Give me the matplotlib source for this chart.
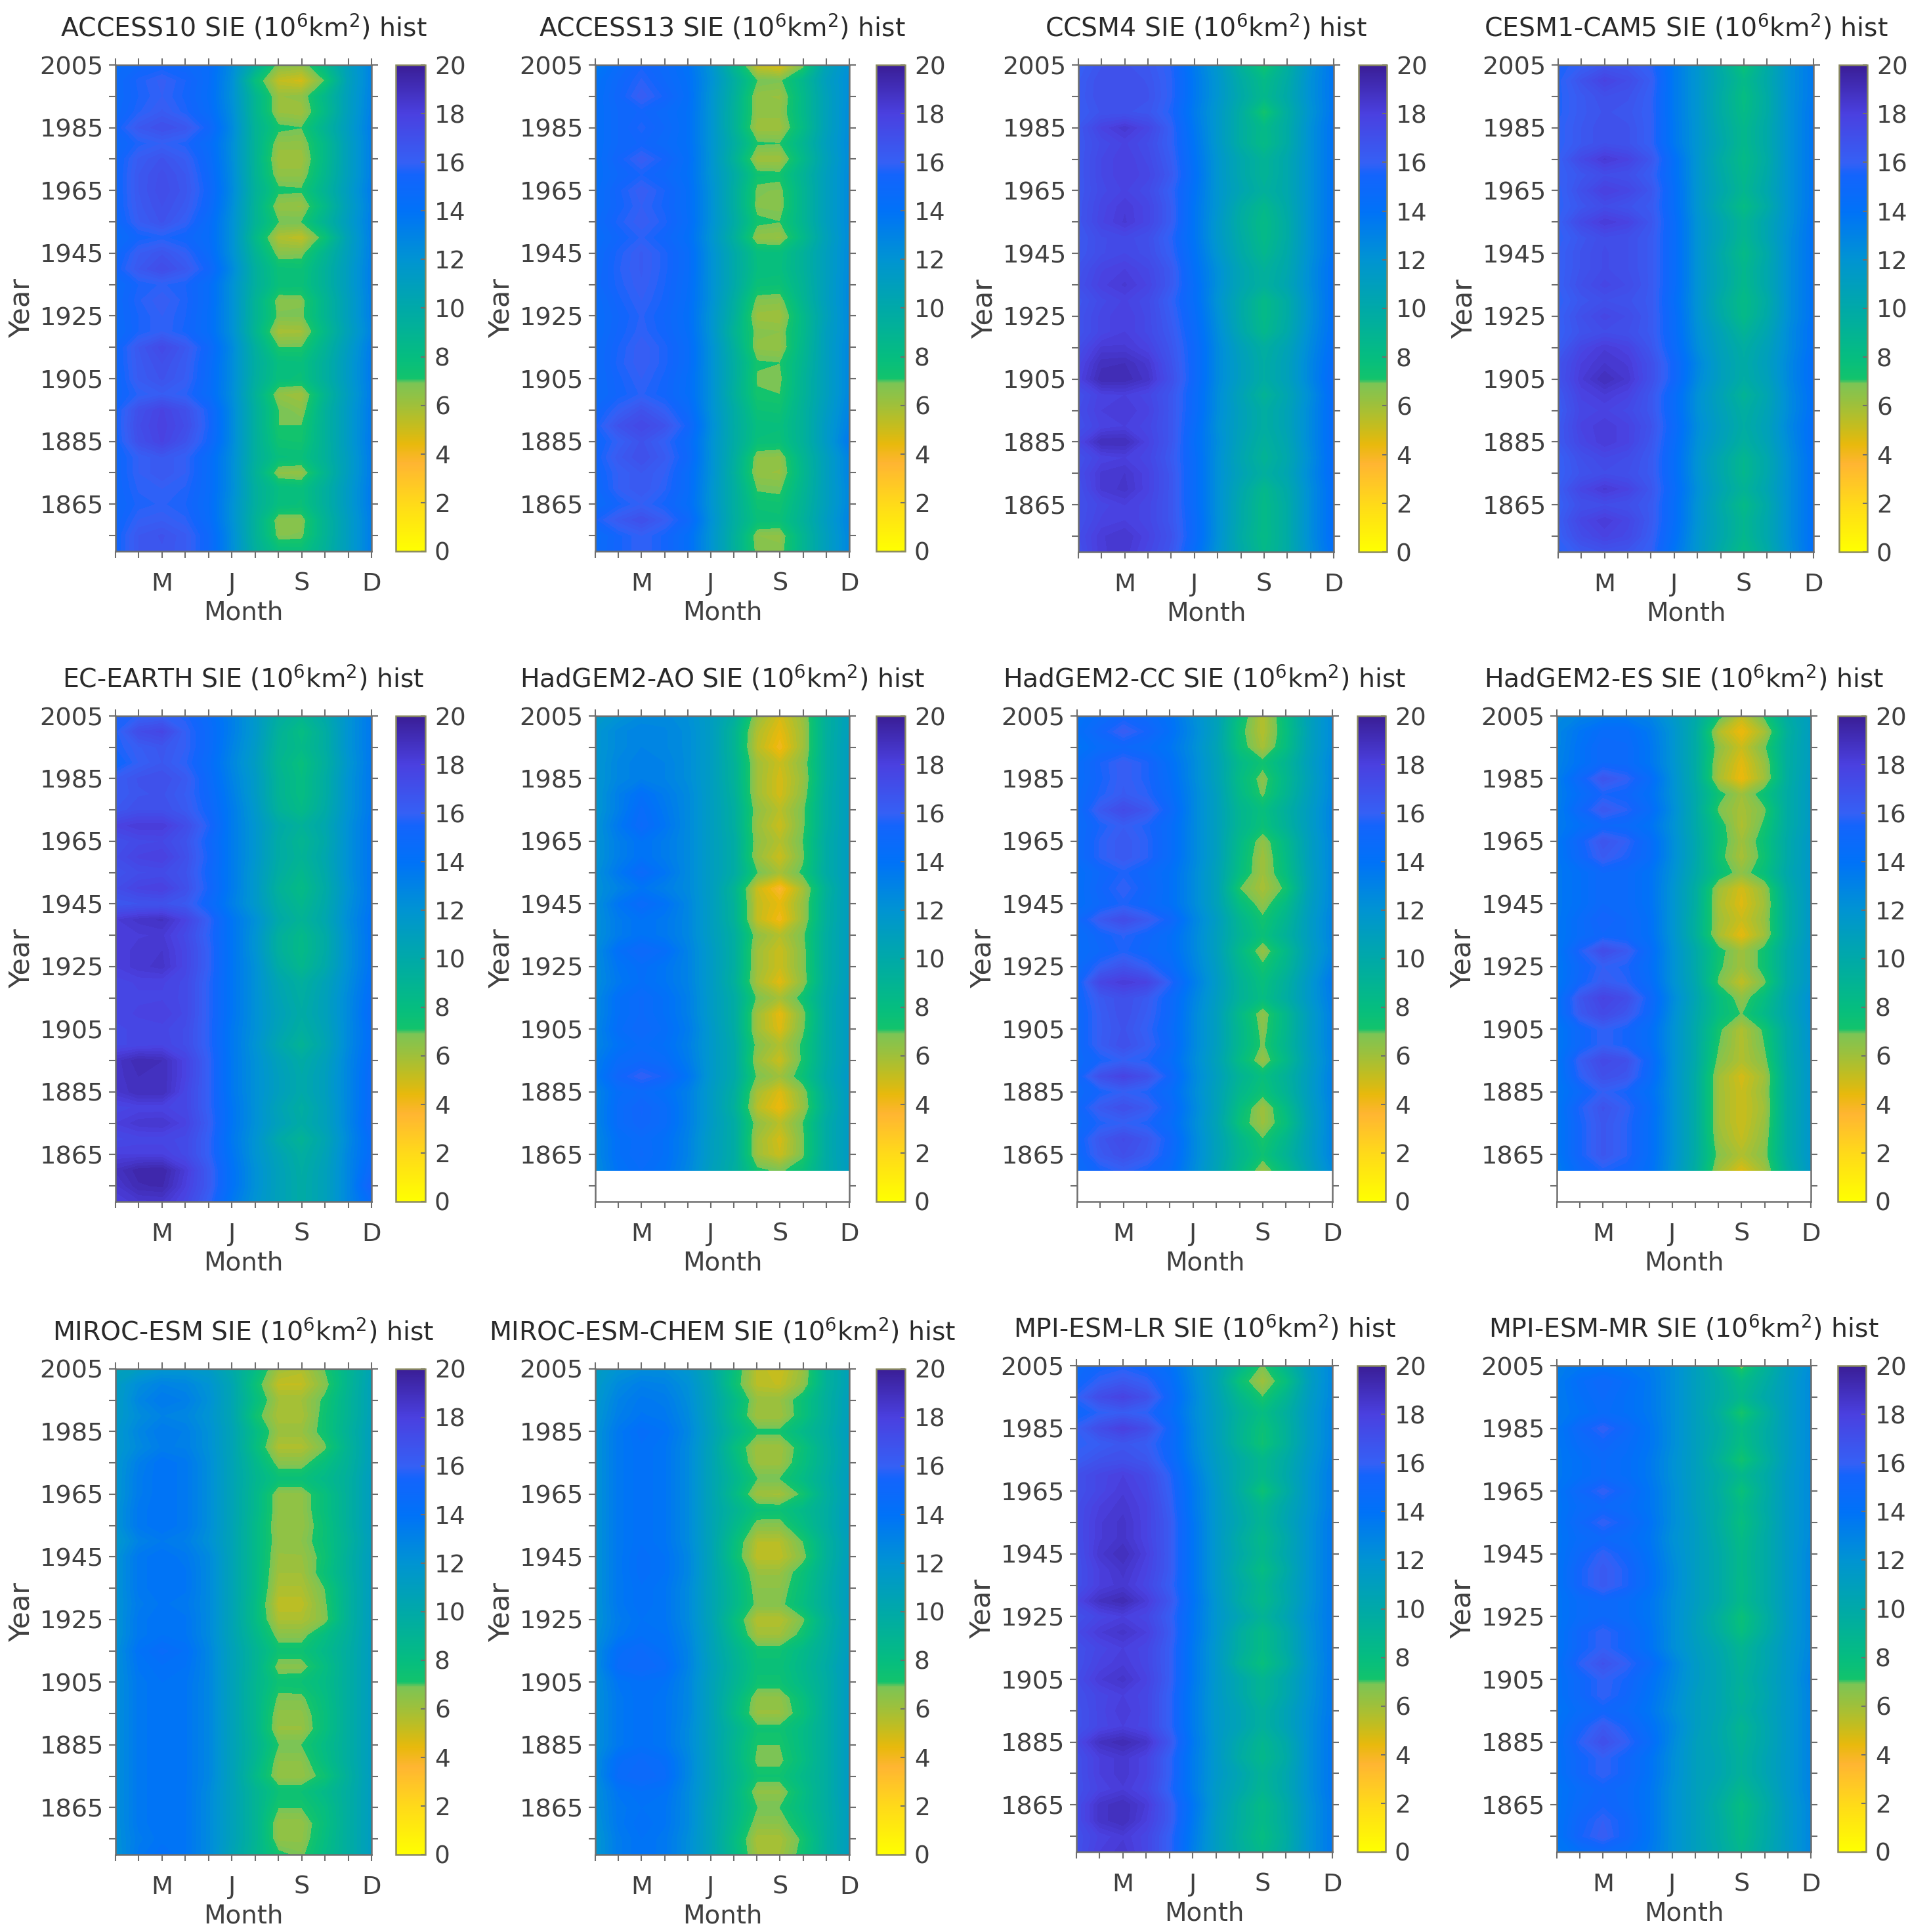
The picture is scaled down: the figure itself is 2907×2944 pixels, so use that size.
import numpy as np
import matplotlib
matplotlib.use('Agg')
import matplotlib.pyplot as plt
from matplotlib.colors import LinearSegmentedColormap, Normalize
from matplotlib.cm import ScalarMappable

plt.rcParams['font.family'] = 'DejaVu Sans'
plt.rcParams['mathtext.default'] = 'regular'

# rows run 2005, 2000, ... 1850 from top to bottom, columns Jan..Dec, values in 0.1 x 10^6 km2
years = list(range(2005, 1849, -5))
months = list(range(1, 13))

access10 = [
[146,150,152,150,146,125,95,66,64,84,110,130],
[147,156,161,155,145,123,78,52,48,70,108,130],
[147,155,160,154,144,122,88,62,64,85,110,131],
[148,157,163,156,146,124,88,62,60,83,110,132],
[152,165,170,166,152,126,90,72,70,90,112,134],
[148,156,160,156,146,124,90,64,64,84,110,132],
[150,163,168,162,148,124,90,60,60,84,110,132],
[150,165,171,165,150,125,90,64,64,86,110,132],
[150,165,172,166,152,126,92,72,71,90,112,134],
[150,164,170,164,150,124,90,63,62,84,110,132],
[148,162,168,160,146,122,90,70,70,90,112,133],
[145,153,156,152,145,122,84,56,52,75,108,132],
[149,162,167,160,147,122,90,66,67,88,110,132],
[152,165,172,165,152,126,94,76,75,92,112,133],
[146,155,158,155,145,122,94,77,76,92,112,133],
[147,157,162,156,145,122,90,66,67,88,110,132],
[147,155,160,155,144,122,90,68,68,88,110,132],
[146,155,160,154,144,122,88,58,59,84,108,130],
[150,165,174,165,150,126,94,70,70,90,112,134],
[150,164,170,163,148,125,96,79,78,94,114,135],
[149,163,168,162,147,125,95,78,77,94,114,135],
[150,158,162,158,146,124,92,63,60,88,112,134],
[153,170,178,170,154,126,94,70,65,92,114,135],
[153,172,179,172,155,126,94,70,70,92,114,135],
[152,170,178,168,153,126,94,73,72,92,114,136],
[150,160,165,160,146,124,94,78,77,92,112,134],
[150,160,165,160,146,124,92,64,63,88,112,134],
[150,158,160,157,146,124,94,80,78,94,114,135],
[149,156,158,155,145,122,94,79,77,94,114,135],
[150,160,162,158,146,122,92,65,66,90,112,133],
[152,165,168,163,150,124,92,67,68,90,112,133],
[152,165,167,163,150,124,94,78,77,92,112,133],
]

access13 = [
[134,146,154,148,140,120,86,50,45,66,106,122],
[140,150,158,150,142,122,96,70,68,86,110,124],
[141,152,162,154,143,120,94,63,62,84,108,124],
[142,150,153,148,142,120,92,64,64,84,108,125],
[142,150,156,150,142,120,92,60,60,82,108,125],
[142,150,153,148,142,120,96,71,70,88,110,126],
[142,153,162,154,143,120,92,60,60,84,108,125],
[142,150,155,150,142,120,98,73,72,90,110,126],
[143,154,162,155,144,122,96,68,67,88,110,126],
[144,153,160,154,144,122,96,67,66,88,110,126],
[146,156,162,156,145,122,98,72,70,88,110,126],
[144,152,158,152,143,120,94,63,62,84,108,125],
[146,156,163,156,146,122,100,79,78,92,110,126],
[147,157,163,156,146,122,100,80,79,92,110,126],
[148,156,162,155,145,122,100,76,75,90,110,127],
[145,154,160,154,144,122,96,67,66,88,110,127],
[144,152,158,152,143,120,94,61,60,84,108,127],
[144,153,159,153,144,120,90,66,65,84,110,126],
[146,155,162,156,146,122,94,64,63,86,110,128],
[146,156,162,156,146,122,96,71,70,88,110,128],
[146,154,160,154,144,122,96,69,68,90,110,128],
[146,153,158,153,144,122,94,71,70,90,110,128],
[150,160,168,160,148,122,98,75,74,92,112,130],
[154,168,175,168,153,124,98,79,78,92,114,132],
[150,160,168,160,148,122,98,77,76,92,114,136],
[152,164,170,163,150,122,96,65,64,88,110,130],
[150,160,165,160,146,122,94,63,62,86,110,130],
[148,160,165,158,146,120,96,69,68,88,110,128],
[146,154,160,154,144,120,96,74,73,90,110,128],
[154,164,170,162,150,122,96,77,76,92,112,130],
[145,154,160,154,143,120,94,65,64,88,110,128],
[146,154,160,154,143,120,94,67,66,88,110,128],
]

ccsm4 = [
[160,167,168,165,157,134,116,92,72,94,120,138],
[162,170,170,167,158,136,118,98,83,98,122,138],
[163,170,170,168,158,136,118,100,85,100,122,138],
[162,168,168,166,156,134,116,96,71,96,120,138],
[165,178,184,176,160,136,116,96,83,98,122,140],
[165,173,178,172,160,138,116,96,82,98,122,140],
[165,175,180,174,162,140,118,102,90,102,122,140],
[165,175,180,176,164,142,118,102,90,102,122,140],
[165,174,178,173,160,140,118,104,93,102,122,140],
[166,176,182,176,162,138,118,98,85,100,122,140],
[166,177,183,176,162,138,116,96,82,98,122,140],
[164,172,174,170,158,138,116,98,83,98,122,140],
[165,172,175,171,160,140,118,100,86,100,122,140],
[168,177,180,175,164,142,122,104,92,102,124,142],
[170,179,183,177,164,144,122,104,93,104,124,142],
[166,174,178,173,160,144,120,100,83,98,122,142],
[168,176,180,174,162,146,122,100,83,98,122,142],
[168,176,180,174,164,148,124,102,85,100,124,142],
[172,183,183,178,166,150,126,108,95,106,126,144],
[176,189,190,184,168,150,126,110,97,108,128,146],
[178,192,192,186,170,150,126,110,97,108,128,148],
[170,179,180,176,166,148,124,106,90,104,124,146],
[172,180,182,178,166,148,124,108,96,106,126,146],
[170,178,180,176,166,146,122,108,96,106,126,146],
[176,190,190,178,166,144,124,106,93,104,126,146],
[170,178,180,176,164,146,122,104,90,102,124,146],
[172,183,185,178,166,146,122,106,94,104,126,146],
[170,183,186,178,166,146,122,102,85,100,124,144],
[170,176,180,176,166,146,122,100,83,98,124,144],
[170,178,180,176,166,148,122,100,83,98,124,144],
[172,182,185,178,168,148,122,98,82,98,124,144],
[170,182,184,176,166,144,120,100,84,98,122,142],
]

cesm = [
[155,160,166,165,158,135,118,98,75,98,122,136],
[156,168,178,172,162,135,118,100,83,100,122,136],
[156,164,170,168,160,135,118,98,80,98,122,136],
[156,164,168,166,160,135,118,98,82,98,122,138],
[158,165,170,168,160,136,118,100,85,100,122,138],
[158,165,170,168,160,136,118,102,85,100,122,138],
[160,174,183,178,166,142,118,98,83,98,122,138],
[160,166,172,170,162,142,118,100,85,100,122,138],
[158,170,180,176,166,144,118,102,87,102,122,138],
[158,166,172,168,164,144,118,98,81,98,122,138],
[160,174,182,178,166,146,120,104,88,104,122,140],
[158,166,172,170,164,146,120,104,87,104,124,140],
[160,168,173,170,164,146,120,100,83,100,124,140],
[160,168,173,170,164,146,120,102,86,102,124,140],
[160,170,176,172,164,146,120,102,85,102,124,140],
[158,166,170,168,164,144,120,98,82,98,124,140],
[160,170,176,172,164,146,120,100,83,100,124,140],
[160,168,172,170,164,146,122,106,90,104,126,142],
[162,176,182,178,166,148,124,108,96,108,126,142],
[168,180,185,182,170,152,128,110,98,110,128,144],
[168,182,190,184,170,152,126,110,97,108,128,144],
[164,178,182,178,166,146,122,106,90,104,126,142],
[162,176,178,174,166,146,122,108,95,106,126,142],
[164,178,182,178,168,148,124,110,97,108,128,144],
[164,176,182,178,166,146,122,108,94,106,126,144],
[160,170,175,172,164,144,120,102,87,102,124,142],
[160,168,172,170,164,144,120,102,86,102,124,142],
[162,176,183,178,166,146,122,104,90,104,124,142],
[160,170,172,170,164,144,120,100,83,100,124,142],
[162,176,182,176,164,144,120,102,87,102,124,142],
[160,172,178,174,162,142,118,102,86,102,124,142],
[156,164,168,166,160,138,118,98,82,98,122,142],
]

ecearth = [
[155,158,160,156,146,132,116,96,88,100,120,136],
[156,172,176,160,148,132,116,92,80,96,120,136],
[155,162,166,160,148,130,114,90,83,96,120,136],
[150,160,165,158,146,128,112,88,78,94,118,136],
[162,168,170,164,148,130,114,90,80,96,120,136],
[162,167,168,162,150,132,114,90,80,96,120,136],
[165,170,170,164,152,134,116,92,83,98,120,136],
[178,182,182,172,156,134,118,100,92,102,122,138],
[170,174,175,168,152,134,118,98,88,100,122,138],
[172,178,180,170,154,134,118,98,90,102,122,138],
[168,172,173,168,152,134,116,96,86,100,122,138],
[172,178,180,170,154,134,116,92,82,98,120,138],
[165,167,168,164,150,132,116,96,86,100,122,138],
[182,186,188,178,160,138,122,100,90,102,124,140],
[180,182,183,174,158,138,120,94,84,98,122,140],
[180,184,185,176,160,138,120,94,83,98,122,140],
[180,184,186,176,160,138,122,98,86,100,122,140],
[176,178,178,174,158,138,122,104,94,106,124,142],
[176,177,177,174,158,138,122,106,96,108,126,144],
[176,178,180,174,158,138,122,108,98,108,126,146],
[174,176,176,172,158,136,122,106,95,106,126,144],
[174,176,177,172,158,136,120,102,90,104,126,144],
[186,192,190,178,160,136,122,108,98,108,128,146],
[186,190,190,178,160,136,122,110,100,110,128,148],
[184,190,190,176,160,136,122,110,100,110,128,148],
[176,178,178,176,160,138,122,106,96,108,128,148],
[180,184,185,178,162,138,122,108,98,108,128,150],
[174,176,176,174,160,136,120,100,90,104,126,146],
[180,180,180,174,160,138,120,106,95,106,128,146],
[188,194,195,182,164,140,122,108,97,108,128,150],
[184,192,193,180,164,140,122,108,98,108,128,156],
[180,184,185,176,160,136,120,108,98,108,128,146],
]

hadgem_ao = [
[114,120,125,126,122,112,96,62,48,62,94,110],
[118,126,130,128,124,112,90,56,44,60,94,110],
[118,126,130,128,124,112,90,54,40,60,94,112],
[118,128,132,130,124,112,92,60,50,64,94,112],
[118,128,132,130,124,112,92,60,48,62,94,112],
[118,132,142,134,126,112,94,60,48,64,96,112],
[118,132,146,136,126,112,96,64,54,68,96,112],
[120,136,148,138,126,112,96,62,50,68,96,112],
[120,132,140,134,126,112,98,64,55,70,98,112],
[120,132,140,134,126,112,98,62,50,68,98,112],
[122,136,148,138,126,112,98,70,58,72,98,112],
[122,130,138,132,126,112,90,50,36,58,92,112],
[122,138,147,140,128,112,92,52,44,62,94,112],
[122,134,140,136,128,112,92,52,40,62,94,112],
[122,134,140,136,128,112,96,64,55,68,96,112],
[124,142,150,144,130,114,96,60,50,66,96,112],
[124,138,144,138,130,114,96,60,50,66,96,112],
[124,136,143,138,130,114,94,58,45,64,96,112],
[126,142,148,142,132,114,98,68,58,74,98,114],
[126,142,148,142,132,114,98,60,44,66,98,114],
[128,144,150,144,134,116,98,60,46,68,98,114],
[128,140,146,142,132,116,100,66,56,72,98,114],
[132,146,150,146,134,116,100,62,50,72,98,114],
[134,152,160,154,138,116,100,68,60,76,100,116],
[128,144,148,142,132,114,96,58,46,64,96,114],
[128,146,153,146,132,114,94,54,42,62,94,114],
[128,146,152,146,132,114,98,64,54,70,98,114],
[126,142,147,142,130,112,98,60,48,68,98,114],
[126,142,148,142,130,112,98,60,50,68,98,114],
[124,140,145,140,128,110,96,72,68,76,98,112],
]

hadgem_cc = [
[140,146,152,148,140,124,108,78,55,80,108,126],
[142,152,162,154,142,126,108,74,55,78,108,126],
[138,146,150,146,138,124,106,76,58,80,108,126],
[144,155,162,156,142,126,108,84,73,88,110,128],
[144,154,162,156,144,126,108,82,65,86,108,128],
[146,156,163,158,146,128,110,84,68,88,110,128],
[146,164,173,166,150,128,110,88,78,94,112,130],
[146,155,162,156,146,128,110,88,76,92,112,130],
[146,158,165,158,146,128,110,84,63,84,110,128],
[146,158,165,158,146,128,110,82,60,82,110,128],
[142,150,156,150,142,126,108,80,60,80,108,128],
[142,152,160,152,142,126,108,70,58,72,108,128],
[142,150,156,150,142,126,108,80,64,82,110,128],
[148,164,172,164,152,130,112,88,72,88,112,130],
[144,152,158,152,144,128,110,90,76,92,112,130],
[144,150,156,150,144,128,110,84,62,84,110,128],
[146,160,168,160,148,130,112,88,72,88,112,132],
[150,176,182,178,158,134,114,92,78,94,116,136],
[150,164,170,164,150,130,112,92,80,96,116,134],
[148,162,170,162,150,128,110,84,64,86,112,132],
[148,162,168,160,148,128,110,86,66,86,112,132],
[148,162,170,162,150,128,110,86,68,88,112,132],
[148,154,160,156,146,126,108,82,62,84,110,130],
[150,170,178,170,152,128,110,90,78,92,112,132],
[148,154,160,156,146,126,108,86,74,90,112,132],
[150,164,170,164,150,128,108,80,60,82,110,130],
[148,156,160,156,146,126,106,76,61,78,108,130],
[150,166,173,166,152,128,108,86,70,86,110,130],
[148,164,170,164,150,128,108,88,74,90,110,130],
[146,154,160,154,146,126,106,84,62,82,106,126],
]

hadgem_es = [
[126,130,134,134,130,116,100,74,52,72,98,112],
[128,138,146,146,136,120,98,56,42,58,94,112],
[128,140,150,148,138,120,98,64,50,68,96,112],
[130,140,150,148,138,120,98,60,45,62,96,112],
[132,150,167,160,146,122,98,58,42,60,96,114],
[132,144,155,152,142,122,100,74,60,76,98,114],
[132,150,165,158,146,124,100,68,58,68,98,114],
[134,142,150,148,140,122,100,76,56,72,98,114],
[136,152,167,160,146,124,102,76,60,76,100,116],
[136,150,163,156,146,124,102,74,58,74,100,116],
[136,142,150,148,140,122,100,78,64,78,102,116],
[136,142,150,148,140,120,96,60,48,62,98,116],
[136,142,150,148,140,120,96,58,46,60,96,116],
[136,146,155,150,142,120,94,60,50,62,96,116],
[136,146,152,150,142,120,94,58,44,60,96,116],
[136,156,172,164,146,122,100,74,60,74,100,118],
[136,150,160,156,144,122,100,72,60,74,100,118],
[136,152,163,158,146,122,102,68,52,68,100,118],
[140,166,178,172,152,126,104,80,64,80,104,122],
[140,164,174,166,150,124,102,80,69,84,104,122],
[136,150,160,154,144,122,100,72,56,72,100,120],
[136,150,160,154,144,122,100,70,56,70,100,120],
[136,162,174,170,150,122,100,66,56,66,100,118],
[136,158,170,166,148,122,98,60,48,60,98,118],
[136,148,160,154,142,122,98,60,50,62,98,118],
[136,156,168,160,146,122,98,60,50,60,98,118],
[136,154,166,158,144,122,98,60,50,62,98,118],
[136,154,166,158,144,122,98,62,52,64,98,118],
[136,154,166,158,144,122,98,66,56,66,98,118],
[134,148,156,152,142,120,96,60,46,60,94,116],
]

miroc_esm = [
[108,112,118,118,114,100,82,60,56,70,88,106],
[112,124,130,128,120,104,76,52,52,66,88,108],
[112,128,135,132,122,104,80,60,60,72,90,108],
[114,124,130,128,120,104,74,58,58,74,90,108],
[116,128,135,132,122,106,82,62,62,74,92,110],
[116,126,133,132,122,106,80,56,56,68,90,110],
[118,132,140,136,124,106,86,66,66,78,92,110],
[118,134,140,136,124,106,88,76,76,84,94,112],
[118,134,140,136,124,106,86,64,64,78,94,112],
[120,136,140,136,124,106,86,64,64,78,94,112],
[120,136,140,136,124,106,84,63,63,76,94,112],
[116,130,135,132,122,106,84,64,65,76,92,110],
[120,136,140,136,126,106,84,62,62,74,94,112],
[120,136,140,138,126,106,84,60,60,76,94,112],
[120,136,140,138,126,106,84,57,57,70,92,112],
[120,134,138,136,126,106,82,53,53,68,92,112],
[120,136,140,138,126,106,82,57,57,66,92,112],
[120,136,140,138,126,106,86,66,66,80,94,112],
[122,140,146,142,128,108,90,74,74,84,96,112],
[122,138,142,140,128,108,90,66,66,80,96,112],
[122,136,140,138,128,108,88,74,75,82,96,112],
[122,136,140,138,128,108,88,68,68,80,96,112],
[122,136,140,138,128,108,88,64,64,78,96,112],
[122,136,140,138,128,108,88,62,62,78,96,112],
[122,136,140,138,128,108,90,70,70,82,96,112],
[122,136,140,138,128,108,88,65,65,80,96,112],
[122,136,140,138,128,108,84,63,63,74,94,112],
[122,136,140,138,126,108,90,75,75,84,96,112],
[122,136,140,138,126,108,90,70,70,80,96,112],
[122,136,140,138,126,108,90,63,63,78,96,112],
[122,134,139,138,126,108,90,64,64,80,96,112],
[120,136,142,138,126,106,88,72,68,82,96,112],
]

miroc_chem = [
[112,120,124,124,118,102,78,54,50,62,92,108],
[114,126,132,130,122,104,76,54,52,64,92,108],
[116,130,136,134,124,106,84,62,62,76,94,110],
[118,132,138,136,126,106,82,60,60,76,94,110],
[120,136,144,140,128,108,88,72,72,84,96,112],
[120,136,142,138,126,106,80,60,60,76,94,110],
[120,136,142,138,126,106,84,61,61,78,94,110],
[120,136,142,138,126,106,88,70,70,82,96,112],
[120,136,142,138,126,106,84,60,59,72,94,110],
[120,136,142,138,126,106,90,76,75,84,96,112],
[120,136,142,138,126,106,86,66,66,80,96,112],
[120,136,142,138,126,106,80,55,55,70,92,110],
[120,136,144,140,128,106,78,53,53,66,92,110],
[120,136,144,140,128,106,84,62,62,76,94,112],
[120,136,142,138,126,106,86,65,65,78,96,112],
[120,136,142,138,126,106,86,67,67,80,96,112],
[120,134,140,138,126,106,80,55,55,68,92,110],
[122,136,142,140,128,108,84,60,60,74,94,112],
[124,144,148,142,130,108,90,74,74,84,96,112],
[124,146,150,146,130,110,92,76,76,86,98,114],
[122,138,142,140,128,108,90,74,74,84,96,114],
[122,136,142,138,128,108,86,64,64,78,96,114],
[122,136,142,138,128,108,84,62,62,76,96,114],
[122,136,142,138,126,108,90,73,73,82,96,114],
[122,136,142,138,126,108,88,70,70,82,96,114],
[124,144,148,144,128,108,88,68,68,80,96,114],
[124,146,150,146,128,108,90,73,73,84,96,114],
[122,138,142,140,126,108,88,64,64,80,96,114],
[122,136,140,138,126,106,88,70,70,82,96,112],
[120,136,142,138,126,106,86,65,65,78,94,112],
[118,134,140,136,124,106,82,58,58,72,94,112],
[118,134,140,136,124,106,84,60,60,74,94,112],
]

mpi_lr = [
[148,152,155,150,142,124,108,88,68,88,112,128],
[150,160,165,160,146,126,106,76,60,78,110,128],
[158,172,178,170,150,128,108,86,70,88,112,128],
[150,158,162,158,146,126,110,92,80,94,114,130],
[160,172,180,172,152,128,110,90,75,92,114,130],
[158,162,166,162,150,128,110,90,74,92,114,130],
[162,168,170,166,152,130,112,98,85,98,116,132],
[170,176,180,174,158,134,114,98,85,100,118,134],
[170,176,182,176,160,136,116,96,74,96,118,134],
[172,180,184,178,162,136,116,100,86,102,118,134],
[172,182,186,178,164,138,116,102,88,104,120,136],
[172,182,186,178,164,138,116,98,84,100,120,136],
[170,184,190,180,164,138,116,100,86,102,120,136],
[170,180,186,178,164,138,116,96,80,98,120,136],
[170,180,184,176,162,138,116,100,86,102,120,136],
[176,188,192,182,166,140,118,98,84,100,120,136],
[170,176,180,176,162,138,118,104,90,104,122,136],
[174,182,186,180,164,138,118,96,82,98,120,136],
[170,176,180,176,162,136,116,96,82,98,120,136],
[170,178,182,176,162,136,116,92,78,94,118,136],
[172,182,186,178,162,136,116,102,88,102,120,136],
[170,176,180,176,160,134,116,102,88,102,120,136],
[168,176,182,176,160,134,116,106,93,106,122,136],
[168,176,180,176,160,134,116,106,93,106,122,138],
[174,188,192,186,166,136,116,100,87,100,122,138],
[170,180,184,178,160,134,116,98,85,98,122,138],
[170,180,184,178,160,134,116,104,90,102,122,138],
[170,178,182,176,158,134,114,102,88,102,122,138],
[172,186,190,182,164,138,114,96,82,98,120,136],
[172,186,190,180,164,136,112,96,83,98,120,136],
[170,178,182,176,160,134,112,94,80,96,120,136],
[170,180,184,176,160,132,112,96,84,98,120,136],
]

mpi_mr = [
[134,136,138,136,134,124,110,92,66,90,110,124],
[134,144,150,144,136,124,110,98,82,96,112,126],
[134,142,148,142,136,124,110,98,86,100,112,126],
[134,140,146,142,136,124,110,94,70,92,112,126],
[136,150,160,150,138,124,110,98,82,96,112,126],
[136,146,152,146,138,124,110,96,80,96,112,126],
[136,142,148,144,136,122,110,92,72,92,112,126],
[136,142,148,144,136,122,110,98,85,98,114,126],
[138,150,160,150,138,124,110,96,76,96,114,126],
[138,146,150,146,138,124,110,98,82,98,114,126],
[138,150,160,152,140,124,112,96,79,96,114,126],
[138,146,150,146,138,122,112,98,82,98,114,126],
[138,150,160,152,140,124,112,100,84,98,114,128],
[138,154,164,156,142,126,112,100,84,98,114,128],
[138,154,164,156,142,126,112,100,83,98,114,128],
[138,146,150,146,138,124,112,100,84,98,114,128],
[138,146,150,146,138,124,110,94,76,94,114,128],
[138,152,160,152,140,124,110,96,79,96,114,128],
[138,152,160,152,140,124,112,102,88,102,116,128],
[140,158,168,160,148,130,114,104,90,102,116,130],
[140,150,160,154,142,128,114,104,92,104,116,132],
[140,150,160,152,140,126,112,104,90,102,116,130],
[138,146,152,148,138,124,112,104,93,104,116,130],
[140,152,164,154,142,128,112,102,88,102,116,130],
[140,158,170,160,146,126,110,102,90,102,116,130],
[140,152,160,152,140,124,110,104,92,104,116,130],
[140,152,160,152,140,124,110,104,92,104,116,130],
[138,146,152,148,138,122,110,100,86,100,116,130],
[138,148,154,148,138,122,110,96,80,96,114,128],
[138,152,160,152,138,122,110,98,82,98,114,128],
[138,154,162,152,138,122,110,98,83,98,114,128],
[136,142,148,144,136,122,110,100,86,100,114,128],
]

titles = ['ACCESS10', 'ACCESS13', 'CCSM4', 'CESM1-CAM5',
          'EC-EARTH', 'HadGEM2-AO', 'HadGEM2-CC', 'HadGEM2-ES',
          'MIROC-ESM', 'MIROC-ESM-CHEM', 'MPI-ESM-LR', 'MPI-ESM-MR']
tables = [access10, access13, ccsm4, cesm,
          ecearth, hadgem_ao, hadgem_cc, hadgem_es,
          miroc_esm, miroc_chem, mpi_lr, mpi_mr]

# axes boxes measured on the reference, in pixels: left, right, top, bottom, cbar left, cbar right
boxes = [
(176,566,99,840,603,648), (907,1294,99,840,1335,1379), (1643,2032,99,841,2070,2113), (2374,2763,99,841,2802,2845),
(176,566,1091,1831,603,648), (907,1294,1091,1831,1335,1379), (1641,2030,1091,1831,2068,2111), (2372,2759,1091,1831,2800,2843),
(176,566,2086,2826,603,648), (907,1294,2086,2826,1335,1379), (1640,2030,2081,2822,2068,2111), (2372,2759,2081,2822,2800,2843),
]

W, H = 2907, 2944
fig = plt.figure(figsize=(W/100, H/100), dpi=100, facecolor='white')

cmap_nodes = [(0, '#ffff00'), (2, '#ffd91a'), (3.6, '#ffb532'), (4.4, '#e8b90c'), (5.2, '#c2bd20'),
              (6, '#9fc03a'), (6.9, '#7cc455'), (7.1, '#12c36c'), (8, '#05bd80'), (10, '#00a9a8'),
              (12, '#0094d2'), (14, '#0072f8'), (15.5, '#1464fc'), (16, '#3560f5'), (18, '#4a40e0'),
              (20, '#3a1e96')]
cmap = LinearSegmentedColormap.from_list('sie', [(v/20, c) for v, c in cmap_nodes], N=512)
norm = Normalize(0, 20)
levels = np.arange(0, 20.01, 0.25)
text_c = '#404040'
edge_c = '#6e6e6e'

for title, table, box in zip(titles, tables, boxes):
    l, r, t, b, cl, cr = box
    ax = fig.add_axes([l/W, 1-b/H, (r-l)/W, (b-t)/H])
    vals = np.array(table)/10
    ax.contourf(months, years[:len(table)], vals, levels=levels, cmap=cmap, norm=norm)
    ax.set_xlim(1, 12)
    ax.set_ylim(1850, 2005)
    ax.set_xticks(months)
    ax.set_xticklabels(['', '', 'M', '', '', 'J', '', '', 'S', '', '', 'D'])
    ax.set_yticks(range(1855, 2006, 10))
    ax.set_yticklabels([str(y) if (y-1865) % 20 == 0 else '' for y in range(1855, 2006, 10)])
    ax.tick_params(axis='both', direction='out', length=7, width=1.5, color=edge_c,
                   labelsize=27.5, labelcolor=text_c, top=True, right=True)
    ax.tick_params(axis='x', pad=16)
    ax.tick_params(axis='y', pad=6)
    for s in ax.spines.values():
        s.set_color(edge_c)
        s.set_linewidth(1.8)
    ax.set_xlabel('Month', fontsize=28, color=text_c, labelpad=5)
    ax.set_ylabel('Year', fontsize=31, color=text_c, labelpad=5)
    ax.set_title(title + ' SIE (10$^6$km$^2$) hist', fontsize=28.4, color='#2a2a2a', pad=31)

    cax = fig.add_axes([cl/W, 1-b/H, (cr-cl)/W, (b-t)/H])
    cb = fig.colorbar(ScalarMappable(norm=norm, cmap=cmap), cax=cax)
    cb.set_ticks(range(0, 21, 2))
    cb.ax.tick_params(direction='in', length=5, width=1.5, color=edge_c,
                      labelsize=27, labelcolor=text_c, pad=10)
    cb.outline.set_edgecolor('#8a8a60')
    cb.outline.set_linewidth(1.8)

fig.savefig('out.png', dpi=100)
